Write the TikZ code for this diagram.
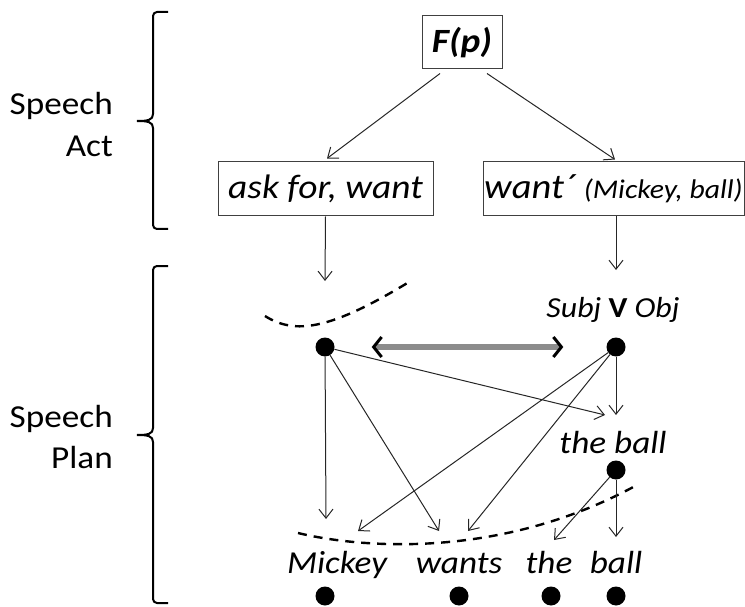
\documentclass[tikz,border=0pt]{standalone}
\usepackage{fontspec}
\setmainfont{Carlito}[FakeStretch=1.1]
\usetikzlibrary{arrows.meta}
\tikzset{
  lbl/.style={font=\fontsize{32}{36}\selectfont, inner sep=0pt, anchor=base east},
  boxnode/.style={draw=black!75, line width=1pt, inner sep=0pt, minimum height=54pt},
  dot/.style={circle, fill=black, inner sep=0pt, minimum width=18pt, minimum height=19pt},
  arr/.style={-{Straight Barb[length=9pt,width=14pt]}, line width=1pt, draw=black!85},
  word/.style={font=\fontsize{32}{34}\selectfont\itshape, inner sep=0pt, anchor=base},
  brace/.style={line width=2pt, rounded corners=4pt},
  dashcurve/.style={line width=2.4pt, dash pattern=on 9pt off 7pt},
  twoway/.style={line width=6pt, draw=black!45, {Straight Barb[length=8pt,width=20pt,line width=3pt,color=black]}-{Straight Barb[length=8pt,width=20pt,line width=3pt,color=black]}}
}
\begin{document}
\begin{tikzpicture}[x=1pt,y=-1pt]
\useasboundingbox (0,0) rectangle (745,607);
% left labels
\node[lbl] (sa1) at (113,115) {Speech};
\node[lbl] (sa2) at (113,157) {Act};
\node[lbl] (sp1) at (113,427) {Speech};
\node[lbl] (sp2) at (113,468) {Plan};
% braces
\draw[brace] (168,12) -- (153,12) -- (153,114);
\draw[line width=2pt] (153,114) .. controls (153,120) and (148,121) .. (137,121) .. controls (148,121) and (153,122) .. (153,128);
\draw[brace] (153,128) -- (153,229) -- (168,229);
\draw[brace] (168,266) -- (153,266) -- (153,428);
\draw[line width=2pt] (153,428) .. controls (153,434) and (148,435) .. (137,435) .. controls (148,435) and (153,436) .. (153,442);
\draw[brace] (153,442) -- (153,603) -- (168,603);
% boxes
\node[boxnode, minimum width=80pt, minimum height=53pt, font=\fontsize{34}{36}\selectfont\bfseries\itshape] (fp) at (462,42.5) {F(p)};
\node[boxnode, minimum width=215pt, font=\fontsize{34}{38}\selectfont\itshape] (ask) at (325.5,189) {ask for, want};
\node[boxnode, minimum width=261pt, font=\fontsize{35}{38}\selectfont\itshape] (want) at (613.5,189) {want´ {\fontsize{27}{30}\selectfont(Mickey, ball)}};
\draw[arr] ([xshift=-22pt,yshift=-4pt]fp.south) -- ([xshift=1.5pt,yshift=3pt]ask.north);
\draw[arr] ([xshift=25pt,yshift=-4pt]fp.south) -- ([xshift=1.5pt,yshift=2pt]want.north);
% coordinates for arrow ends
\coordinate (ta) at (325,281);
\coordinate (tw) at (616,270);
\coordinate (t1) at (605,415);
\coordinate (t2) at (616,415);
\coordinate (t3) at (326,519);
\coordinate (t4) at (439,531);
\coordinate (t5) at (358,531);
\coordinate (t6) at (468,531);
\coordinate (t7) at (554,540);
\coordinate (t8) at (616,537);
\draw[arr] (ask.south) -- (ta);
\draw[arr] ([xshift=2.5pt]want.south) -- (tw);
% dots
\node[dot] (d1) at (325,347) {};
\node[dot] (d2) at (616,347) {};
\node[dot] (d3) at (616,470) {};
\node[dot] (b1) at (325,596) {};
\node[dot] (b2) at (459,596) {};
\node[dot] (b3) at (551,596) {};
\node[dot] (b4) at (616,596) {};
% labels
\node[word, font=\fontsize{29}{30}\selectfont\itshape] (svo) at (613,317) {Subj {\upshape\bfseries V} Obj};
\node[word] (tb) at (613,453) {the ball};
\node[word] (w1) at (337,573) {Mickey};
\node[word] (w2) at (459,573) {wants};
\node[word] (w3) at (549,573) {the};
\node[word] (w4) at (616,573) {ball};
% dashed curves
\draw[dashcurve] (265,316) .. controls (295,335) and (330,330) .. (409,282);
\draw[dashcurve] (298,533) .. controls (360,548) and (500,560) .. (637,485);
% double arrow
\draw[twoway, shorten <=37pt, shorten >=43pt] (d1) -- (d2);
% arrows from dots
\draw[arr] (d1) -- (t1);
\draw[arr] (d2) -- (t2);
\draw[arr] (d1) -- (t3);
\draw[arr] (d1) -- (t4);
\draw[arr] (d2) -- (t5);
\draw[arr] (d2) -- (t6);
\draw[arr] (d3) -- (t7);
\draw[arr] (d3) -- (t8);
\end{tikzpicture}
\end{document}
